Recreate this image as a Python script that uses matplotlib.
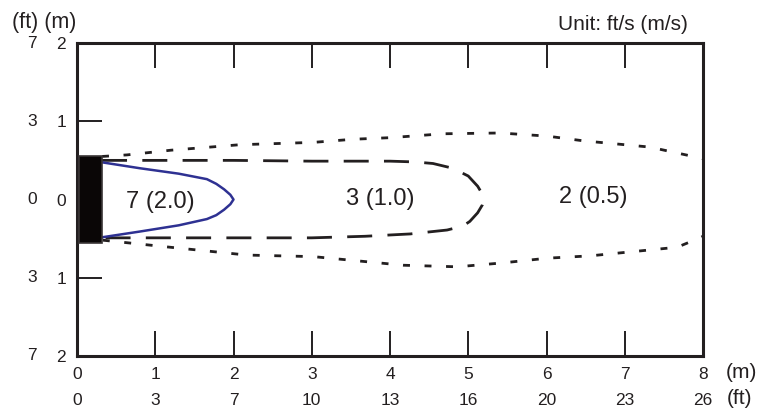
import matplotlib.pyplot as plt
import matplotlib.patches as patches
import matplotlib.transforms as transforms

plt.rcParams['font.family'] = ['Liberation Sans', 'DejaVu Sans']
plt.rcParams['lines.scale_dashes'] = False

ink = '#231f20'

# axis ticks (metres) and the matching feet labels
x_m = [0, 1, 2, 3, 4, 5, 6, 7, 8]
x_ft = ['0', '3', '7', '10', '13', '16', '20', '23', '26']
y_m = [2, 1, 0, -1, -2]
y_m_lab = ['2', '1', '0', '1', '2']
y_ft_lab = ['7', '3', '0', '3', '7']

# outlet block (m)
outlet_x0, outlet_x1 = 0.02, 0.32
outlet_half_h = 0.55

# 7 ft/s (2.0 m/s) envelope
blue_up_x = [0.32, 0.8, 1.3, 1.66, 1.78, 1.88, 1.96, 2.0]
blue_up_y = [0.475, 0.40, 0.33, 0.26, 0.2, 0.13, 0.06, 0.0]
blue_lo_x = [2.0, 1.96, 1.88, 1.78, 1.66, 1.3, 0.8, 0.32]
blue_lo_y = [0.0, -0.06, -0.13, -0.2, -0.25, -0.33, -0.41, -0.483]

# 3 ft/s (1.0 m/s) envelope
mid_up_x = [0.32, 1.0, 2.0, 3.0, 4.0, 4.32, 4.55, 4.8, 5.0, 5.12, 5.18, 5.2]
mid_up_y = [0.50, 0.50, 0.50, 0.49, 0.49, 0.48, 0.46, 0.40, 0.30, 0.17, 0.07, 0.0]
mid_lo_x = [5.2, 5.18, 5.12, 5.02, 4.93, 4.73, 4.26, 3.68, 3.0, 2.0, 1.0, 0.32]
mid_lo_y = [0.0, -0.07, -0.17, -0.28, -0.34, -0.39, -0.44, -0.47, -0.49, -0.49, -0.49, -0.49]

# 2 ft/s (0.5 m/s) envelope
low_up_x = [0.32, 0.64, 1.2, 2.08, 3.02, 3.53, 4.0, 4.68, 5.41, 6.01, 6.47, 7.32, 7.92, 8.0]
low_up_y = [0.55, 0.57, 0.63, 0.70, 0.73, 0.77, 0.79, 0.84, 0.85, 0.81, 0.75, 0.67, 0.54, 0.52]
low_lo_x = [0.33, 1.19, 2.17, 3.02, 4.17, 4.86, 5.44, 6.01, 6.56, 7.67, 7.96, 8.0]
low_lo_y = [-0.52, -0.61, -0.71, -0.73, -0.84, -0.86, -0.81, -0.75, -0.72, -0.61, -0.49, -0.47]

zone_labels = ['7 (2.0)', '3 (1.0)', '2 (0.5)']
zone_x = [1.07, 3.87, 6.6]
zone_y = [-0.03, 0.0, 0.03]

fig = plt.figure(figsize=(7.71, 4.17), dpi=100)
ax = fig.add_axes([77 / 771, 1 - 356 / 417, 626 / 771, 313 / 417])
ax.set_xlim(0, 8)
ax.set_ylim(-2, 2)

ax.plot(low_up_x, low_up_y, color=ink, lw=2.0, dashes=(5, 10.5))
ax.plot(low_lo_x, low_lo_y, color=ink, lw=2.0, dashes=(5, 10.5))
ax.plot(mid_up_x + mid_lo_x[1:], mid_up_y + mid_lo_y[1:], color=ink, lw=2.0, dashes=(18, 11))
ax.plot(blue_up_x + blue_lo_x[1:], blue_up_y + blue_lo_y[1:], color='#2e3192', lw=1.8)

ax.add_patch(patches.Rectangle((outlet_x0, -outlet_half_h), outlet_x1 - outlet_x0, 2 * outlet_half_h,
                               facecolor='#0a0606', edgecolor='#3a3536', lw=1.2, zorder=3))

for lab, x, y in zip(zone_labels, zone_x, zone_y):
    ax.text(x, y, lab, fontsize=17, color=ink, ha='center', va='center')

for s in ax.spines.values():
    s.set_linewidth(2.2)
    s.set_color(ink)

ax.set_xticks(x_m)
ax.set_xticklabels([str(v) for v in x_m])
ax.set_yticks(y_m)
ax.set_yticklabels(y_m_lab)
ax.tick_params(axis='x', direction='in', length=18, width=1.4, color=ink, top=True,
               labelsize=12.5, labelcolor=ink, pad=8)
ax.tick_params(axis='y', direction='in', length=18, width=1.4, color=ink,
               labelsize=12.5, labelcolor=ink, pad=8)

trx = transforms.blended_transform_factory(ax.transData, ax.transAxes)
for x, lab in zip(x_m, x_ft):
    ax.text(x, -0.1406, lab, transform=trx, fontsize=12.5, color=ink, ha='center', va='center')
try_ = transforms.blended_transform_factory(ax.transAxes, ax.transData)
for y, lab in zip(y_m, y_ft_lab):
    ax.text(-0.0639, y, lab, transform=try_, fontsize=12.5, color=ink, ha='right', va='center')

fig.text(741 / 771, 1 - 372 / 417, '(m)', fontsize=15, color=ink, ha='center', va='center')
fig.text(740 / 771, 1 - 399 / 417, '(ft)', fontsize=15, color=ink, ha='center', va='center')
fig.text(12 / 771, 1 - 28 / 417, '(ft) (m)', fontsize=15.5, color=ink, ha='left', va='baseline')
fig.text(688 / 771, 1 - 30 / 417, 'Unit: ft/s (m/s)', fontsize=15, color=ink, ha='right', va='baseline')

fig.savefig('out.png', dpi=100)
